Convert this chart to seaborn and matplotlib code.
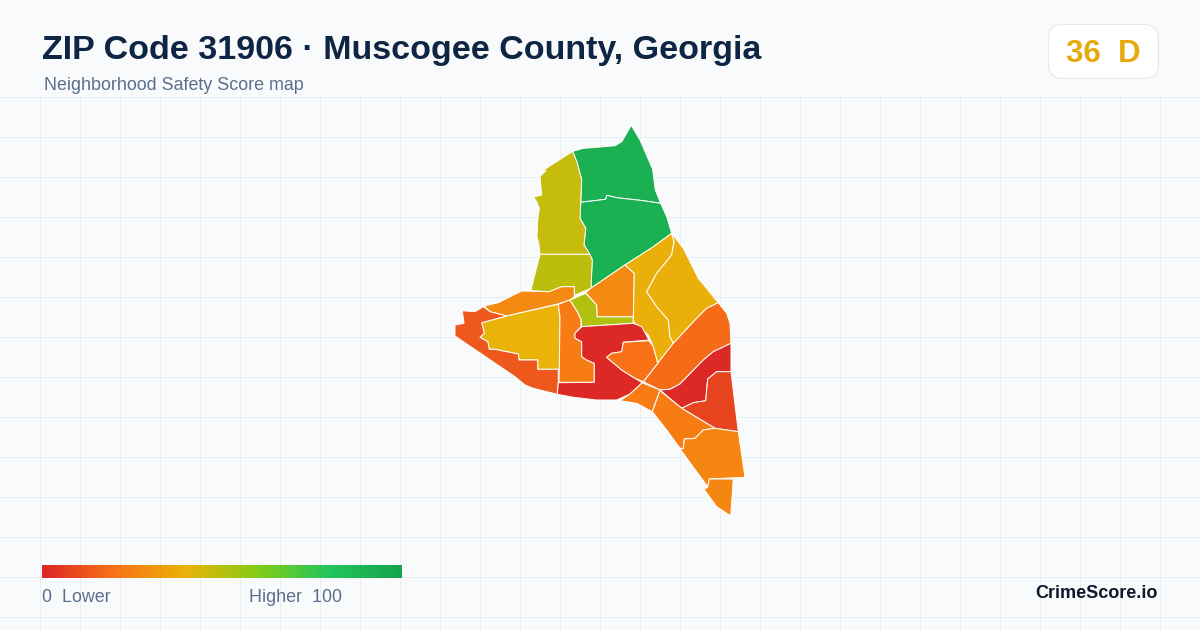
import numpy as np
import seaborn as sns
import matplotlib.pyplot as plt
from matplotlib.collections import PolyCollection
from matplotlib.patches import FancyBboxPatch

title = 'ZIP Code 31906 · Muscogee County, Georgia'
subtitle = 'Neighborhood Safety Score map'
zip_score = '36'
zip_grade = 'D'
legend_low = '0  Lower'
legend_high = 'Higher  100'
brand = 'CrimeScore.io'

# score colour ramp, evenly spaced from 0 to 100
ramp_colors = ['#dc2626', '#f97316', '#eab308', '#84cc16', '#22c55e', '#16a34a']

# neighborhood scores, estimated from the fill colours
scores = [92, 92, 47, 49, 27, 40, 13, 23, 51, 27, 39, 39, 18, 1, 8, 1, 20, 23, 23, 26, 26]

# neighborhood outlines
outlines = [
    [(572.7,151.3),(583.3,148.3),(596.7,147.3),(615,145.7),(621.7,141.7),(631.3,125.3),(640,140),(652.7,169.3),(655.3,190),(660.7,203.3),(643.3,200.7),(616.7,197.7),(606.7,195.3),(605.7,199.3),(580.7,202.3),(581.7,180),(577.3,163.3)],
    [(580.7,202.3),(605.7,199.3),(606.7,195.3),(616.7,197.7),(643.3,200.7),(660.7,203.3),(666.7,216.7),(671.7,233.3),(653,247),(625,265),(590.7,288.3),(592.3,260),(584,245),(585.7,228.3),(580,218.3)],
    [(572.7,151.3),(577.3,163.3),(581.7,180),(580.7,202.3),(580,218.3),(585.7,228.3),(584,245),(590,254.3),(540,254.3),(539,245),(537,236.7),(537.7,220),(539.3,208.3),(536.7,201.7),(533.3,197.3),(541.7,195),(540,176.7),(546,170.3),(538,173.5)],
    [(540,254.3),(590,254.3),(592.3,260),(591,288.3),(574.7,295.3),(574.3,286.7),(561.7,286.7),(549.3,291.7),(530.7,290.7)],
    [(484.3,306),(498.3,302.7),(521.7,291),(549.3,291.7),(561.7,286.7),(574.3,286.7),(574.3,296.7),(570,300),(556.7,304.3),(506.7,316),(490,311.7)],
    [(506.7,316),(558.3,304.3),(560,316.7),(559.3,369.3),(537.7,369.3),(537.7,360),(519,360),(518.3,354),(501.7,350.7),(495,349.3),(489.3,349.3),(487.7,341.7),(480,337.3),(484.3,333.3),(481.7,322.7)],
    [(462.3,310.7),(475,311.7),(483.3,306.7),(490,311.7),(506.7,316),(481.7,322.7),(484.3,333.3),(480,337.3),(487.7,341.7),(489.3,349.3),(495,349.3),(501.7,350.7),(518.3,354),(519,360),(537.7,360),(537.7,369.3),(558.3,369.3),(558.3,382.7),(557.3,394.3),(533.3,388.3),(525,385),(515,376.7),(455,336),(455,325),(464,323.3)],
    [(558.3,304.3),(570,300),(577.3,311.7),(581,319.3),(581,326.7),(575,333.3),(575,338.3),(581.7,341.7),(581.7,356.7),(586.7,360),(594.3,363.3),(594.3,382.3),(559,382.3),(559.3,369.3),(560,316.7)],
    [(570,300),(585.7,293.3),(596.7,305),(597.3,316.7),(633.3,316.7),(633.3,323.3),(581.7,326.7),(581,319.3),(577.3,311.7)],
    [(625,265),(634.3,273.3),(633.3,316.7),(597.3,316.7),(596.7,305),(585.7,292.7),(590.7,288.3)],
    [(671.7,233.3),(674,241.7),(671.7,255),(656.7,273.3),(646.7,291.7),(656.7,306.7),(668.3,320),(670,336.7),(673.3,343.3),(657.7,363.3),(653.3,346.7),(648.3,335),(633.3,321.7),(634.3,273.3),(625,265),(653,247)],
    [(671.7,233.3),(683.3,248.3),(698.3,278.3),(718.3,302.7),(706.7,308.3),(696.7,318.3),(673.3,343.3),(670,336.7),(668.3,320),(656.7,306.7),(646.7,291.7),(656.7,273.3),(671.7,255),(674,241.7)],
    [(718.3,302.7),(726.7,313.3),(730,323.3),(731,343.3),(713.3,351.7),(703.3,360),(680,384),(670,389.3),(660,390),(643.3,381.7),(657.7,363.3),(673.3,343.3),(696.7,318.3),(706.7,308.3)],
    [(731,343.3),(731,371.7),(716.7,371.7),(707.7,379),(705.7,400.7),(693.3,402.7),(681.7,408.3),(660,390),(670,389.3),(680,384),(703.3,360),(713.3,351.7)],
    [(731,371.7),(738.3,431.7),(715,428.3),(681.7,408.3),(693.3,402.7),(705.7,400.7),(707.7,379),(716.7,371.7)],
    [(581.7,326.7),(633.3,323.3),(641.7,326.7),(649,340),(623.3,342.3),(621.7,351.7),(611.7,353.3),(606.7,357.3),(621.7,370),(635,378.3),(642.3,382.7),(630,394),(616.7,400),(596.7,400),(573.3,397.3),(557.3,394.3),(558.3,382.7),(594.3,382.3),(594.3,363.3),(586.7,360),(581.7,356.7),(581.7,341.7),(575,338.3),(575,333.3)],
    [(649,340.7),(653.3,346.7),(657.7,363.3),(643.3,381.7),(635,378.3),(621.7,370),(606.7,357.3),(611.7,353.3),(621.7,351.7),(623.3,342.3)],
    [(642.3,382.7),(660,390),(652.3,411.7),(636.7,403.3),(620,400.7),(630,394)],
    [(660,390.7),(681.7,408.3),(715,428.3),(703.3,430),(695,438.3),(684.3,439),(683.3,448.3),(680,448.3),(666.7,430),(652.3,411.7)],
    [(715,428.3),(738.3,431.7),(745,477.3),(709.3,479),(707.7,486.7),(680,449),(683.3,448.3),(684.3,439),(695,438.3),(703.3,430)],
    [(709.3,479),(733.3,479),(730.7,516),(716.7,506.7),(704,489.3),(707.7,487.3)],
]

sns.set_theme(style='white')
plt.rcParams['font.family'] = ['Liberation Sans', 'DejaVu Sans']

cmap = sns.blend_palette(ramp_colors, as_cmap=True)
ink = '#0f2544'
muted = '#5b6f8c'

fig = plt.figure(figsize=(12, 6.3), dpi=100, facecolor='#f8fafc')
ax = fig.add_axes([0, 0, 1, 1])
ax.set_facecolor('#f8fafc')
ax.set_axis_off()

# background grid, below the header only
ax.vlines(np.arange(40, 1200, 40), 96, 630, color='#e5eef3', lw=0.72, zorder=1)
ax.hlines(np.arange(97, 630, 40), 0, 1200, color='#e5eef3', lw=0.72, zorder=1)

map_polys = PolyCollection(outlines, array=np.array(scores), cmap=cmap, clim=(0, 100),
                           edgecolors='#ffffff', linewidths=0.72, zorder=2)
ax.add_collection(map_polys)

# legend bar
gradient = np.linspace(0, 100, 360).reshape(1, -1)
ax.imshow(gradient, cmap=cmap, vmin=0, vmax=100, extent=(42, 402, 578, 565), aspect='auto', zorder=3)

ax.text(42, 50, title, fontsize=24.45, fontweight='bold', color=ink, va='center', ha='left')
ax.text(44, 86, subtitle, fontsize=12.9, color=muted, va='center', ha='left')

badge = FancyBboxPatch((1048.5, 24.5), 110, 54, boxstyle='round,pad=0,rounding_size=14',
                       fc='#ffffff', ec='#e2e8f0', lw=0.72, zorder=3)
ax.add_patch(badge)
ax.text(1103, 54, f'{zip_score}  {zip_grade}', fontsize=22.5, fontweight='bold', color='#e8a90f',
        va='center', ha='center', zorder=4)

ax.text(42, 598, legend_low, fontsize=12.85, color=muted, va='center', ha='left')
ax.text(249, 598, legend_high, fontsize=12.85, color=muted, va='center', ha='left')
ax.text(1158, 594, brand, fontsize=13, fontweight='bold', color='#0f172a', va='center', ha='right')

ax.set_xlim(0, 1200)
ax.set_ylim(630, 0)

fig.savefig('out.png', dpi=100, facecolor=fig.get_facecolor())
